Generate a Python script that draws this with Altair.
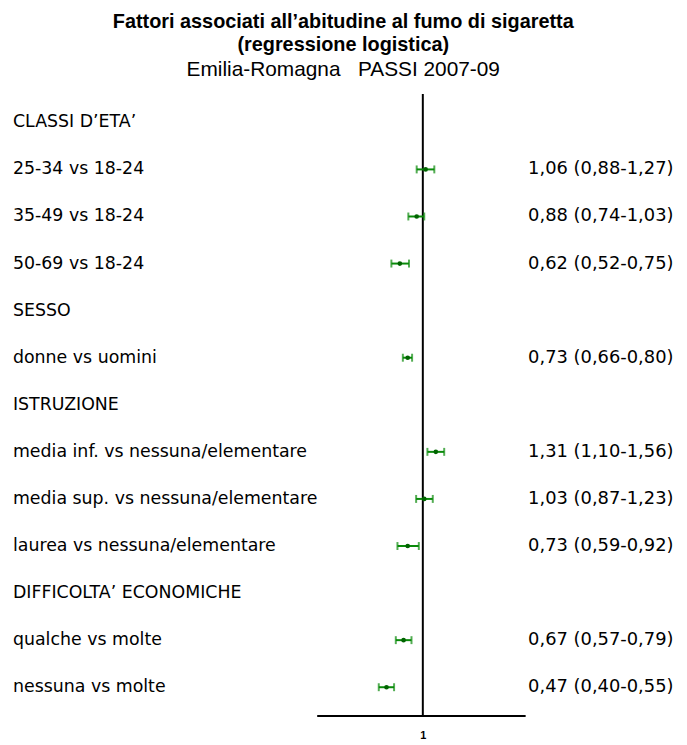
import altair as alt
import pandas as pd

labels = [
    "CLASSI D\u2019ETA\u2019",
    "25-34 vs 18-24",
    "35-49 vs 18-24",
    "50-69 vs 18-24",
    "SESSO",
    "donne vs uomini",
    "ISTRUZIONE",
    "media inf. vs nessuna/elementare",
    "media sup. vs nessuna/elementare",
    "laurea vs nessuna/elementare",
    "DIFFICOLTA\u2019 ECONOMICHE",
    "qualche vs molte",
    "nessuna vs molte",
]
odds = [None, 1.06, 0.88, 0.62, None, 0.73, None, 1.31, 1.03, 0.73, None, 0.67, 0.47]
lower = [None, 0.88, 0.74, 0.52, None, 0.66, None, 1.10, 0.87, 0.59, None, 0.57, 0.40]
upper = [None, 1.27, 1.03, 0.75, None, 0.80, None, 1.56, 1.23, 0.92, None, 0.79, 0.55]


def fmt(v):
    return f"{v:.2f}".replace(".", ",")


rows = []
for lab, o, lo, hi in zip(labels, odds, lower, upper):
    rows.append({
        "label": lab,
        "or": o,
        "lo": lo,
        "hi": hi,
        "txt": "" if o is None else f"{fmt(o)} ({fmt(lo)}-{fmt(hi)})",
    })
df = pd.DataFrame(rows)
est = df[df["or"].notna()]

xscale = alt.Scale(type="log", domain=[0.11, 8.4], nice=False)
yscale = alt.Scale(type="point", padding=0.6)
Y = alt.Y("label:N", sort=labels, scale=yscale, axis=None)

base = alt.Chart(df)

vline = alt.Chart(pd.DataFrame({"v": [1]})).mark_rule(color="black", strokeWidth=2).encode(
    x=alt.X("v:Q", scale=xscale,
            axis=alt.Axis(values=[1], ticks=False, grid=False, domainColor="black",
                          domainWidth=2, labelFontSize=11, labelColor="black",
                          labelFontWeight="bold",
                          labelPadding=14, labelFont="Liberation Sans", title=None))
)

left_txt = base.mark_text(align="left", baseline="middle", font="DejaVu Sans",
                          fontSize=17.5, color="black").encode(
    x=alt.value(-306), y=Y, text="label:N")

right_txt = base.mark_text(align="left", baseline="middle", font="DejaVu Sans",
                           fontSize=18, color="black").encode(
    x=alt.value(213), y=Y, text="txt:N")

bars = alt.Chart(est).mark_rule(color="#0a8a0a", strokeWidth=2).encode(
    x=alt.X("lo:Q", scale=xscale), x2="hi:Q", y=Y)

caps_lo = alt.Chart(est).mark_tick(color="#0a8a0a", thickness=2, size=8).encode(
    x=alt.X("lo:Q", scale=xscale), y=Y)
caps_hi = alt.Chart(est).mark_tick(color="#0a8a0a", thickness=2, size=8).encode(
    x=alt.X("hi:Q", scale=xscale), y=Y)

pts = alt.Chart(est).mark_point(filled=True, color="#006400", size=22, opacity=1).encode(
    x=alt.X("or:Q", scale=xscale), y=Y)

chart = alt.layer(vline, bars, caps_lo, caps_hi, pts, left_txt, right_txt).properties(
    width=210,
    height=626,
    padding={"left": 5, "top": 1, "right": 5, "bottom": 0},
    title=alt.TitleParams(
        text=["Fattori associati all\u2019abitudine al fumo di sigaretta",
              "(regressione logistica)"],
        subtitle="Emilia-Romagna\u00a0\u00a0\u00a0PASSI 2007-09",
        font="Liberation Sans", fontSize=20, fontWeight="bold", color="black",
        lineHeight=24,
        subtitleFont="Liberation Sans", subtitleFontSize=21, subtitleColor="black",
        subtitlePadding=4,
        anchor="middle", frame="bounds", offset=13,
    ),
).configure_view(stroke=None)

chart.save("out.html", embed_options={"renderer": "svg", "actions": False})
